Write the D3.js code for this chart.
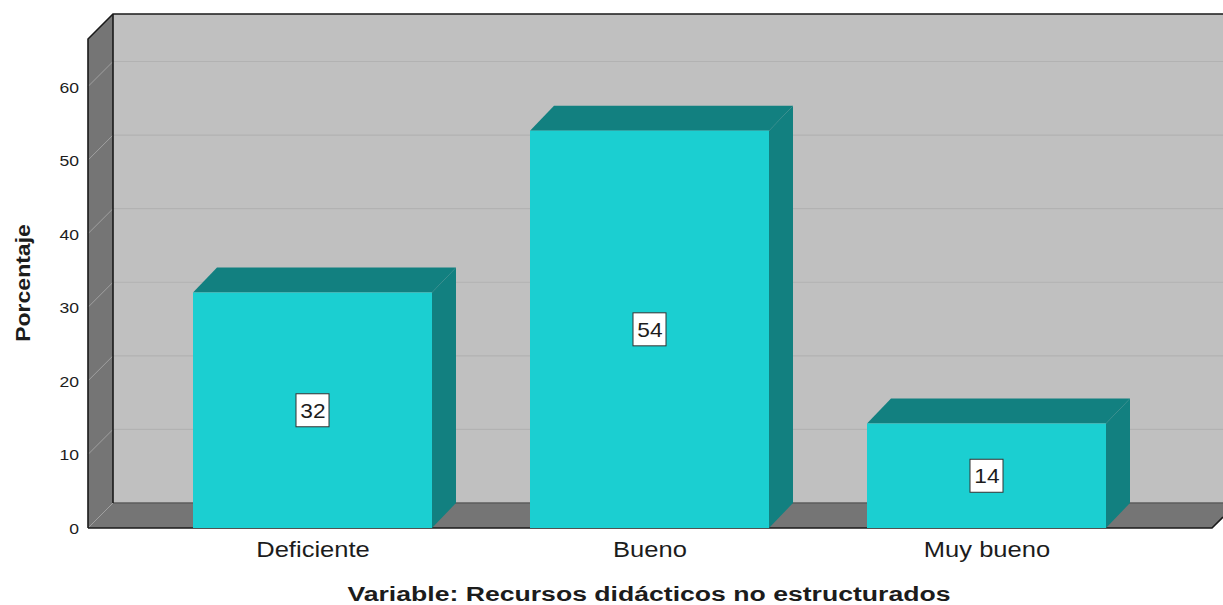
<!DOCTYPE html>
<html><head><meta charset="utf-8">
<script src="https://cdn.jsdelivr.net/npm/d3@7"></script>
<style>html,body{margin:0;padding:0;background:#fff}svg{display:block}text{font-family:"Liberation Sans",Arial,sans-serif;fill:#1c1c1c}</style>
</head><body><svg id="c" width="1223" height="605"></svg>
<script>
const categories=["Deficiente","Bueno","Muy bueno"];
const values=[32,54,14.2];
const labels=["32","54","14"];
const yTicks=[0,10,20,30,40,50,60];
const gridTicks=[10,20,30,40,50,60];
const yTitle="Porcentaje";
const xTitle="Variable: Recursos didácticos no estructurados";

const W=1223,H=605;
const left=88,right=1212,bottom=528,depth=25,wallTop=14;
const y=d3.scaleLinear().domain([0,60]).range([bottom,86.5]);
const x=d3.scalePoint().domain(categories).range([312.5,986.5]);
const barW=239;
const svg=d3.select("#c");
const ink="#1a1a1a";

// walls
svg.append("polygon").attr("points",[[left+depth,wallTop],[W+2,wallTop],[W+2,bottom-depth],[left+depth,bottom-depth]].join(" ")).attr("fill","#c0c0c0");
svg.append("polygon").attr("points",[[left,wallTop+depth],[left+depth,wallTop],[left+depth,bottom-depth],[left,bottom]].join(" ")).attr("fill","#757575");
svg.append("polygon").attr("points",[[left,bottom],[left+depth,bottom-depth],[W+2,bottom-depth],[W+2,bottom-(W+2-right)],[right,bottom]].join(" ")).attr("fill","#757575");

// gridlines
svg.append("g").selectAll("line").data(gridTicks).join("line")
 .attr("x1",left+depth).attr("x2",W)
 .attr("y1",d=>y(d)-depth).attr("y2",d=>y(d)-depth)
 .attr("stroke","#b2b2b2").attr("stroke-width",1.2);
svg.append("g").selectAll("line").data(gridTicks.concat([0])).join("line")
 .attr("x1",left).attr("x2",left+depth)
 .attr("y1",d=>y(d)).attr("y2",d=>y(d)-depth)
 .attr("stroke","#a0a0a0");

// wall outlines
svg.append("line").attr("x1",left+depth).attr("x2",W).attr("y1",bottom-depth).attr("y2",bottom-depth).attr("stroke","#5c5c5c").attr("stroke-width",1.5);
const outline=[[[left,bottom],[left,wallTop+depth],[left+depth,wallTop],[W,wallTop]],
 [[left+depth,wallTop],[left+depth,bottom-depth]],
 [[left,bottom],[right,bottom],[W,bottom-(W-right)]]];
svg.append("g").selectAll("path").data(outline).join("path")
 .attr("d",d3.line()).attr("fill","none").attr("stroke",ink).attr("stroke-width",1.6);

// bars
const g=svg.append("g").selectAll("g").data(categories.map((c,i)=>({c,v:values[i],l:labels[i]}))).join("g");
const xl=d=>x(d.c)-barW/2, xr=d=>x(d.c)+barW/2;
g.append("polygon").attr("points",d=>[[xl(d),y(d.v)],[xl(d)+depth-1,y(d.v)-depth],[xr(d)+depth-1,y(d.v)-depth],[xr(d),y(d.v)]].join(" ")).attr("fill","#128080");
g.append("polygon").attr("points",d=>[[xr(d),y(d.v)],[xr(d)+depth-1,y(d.v)-depth],[xr(d)+depth-1,bottom-depth],[xr(d),bottom]].join(" ")).attr("fill","#128080");
g.append("rect").attr("x",xl).attr("y",d=>y(d.v)).attr("width",barW).attr("height",d=>bottom-y(d.v)).attr("fill","#1bcfd1");
g.append("rect").attr("x",d=>x(d.c)-16.5).attr("y",d=>(y(d.v)+bottom)/2-16.5).attr("width",33).attr("height",33).attr("fill","#fff").attr("stroke","#333").attr("stroke-width",1);
const lab=g.append("text").attr("x",d=>x(d.c)+0.5).attr("y",d=>(y(d.v)+bottom)/2+7.5).attr("text-anchor","middle").attr("font-size",21).text(d=>d.l);

// tick labels
const yl=svg.append("g").selectAll("text").data(yTicks).join("text")
 .attr("x",79).attr("y",d=>y(d)+6).attr("text-anchor","end").attr("font-size",15).text(d=>d);
const xLabels=svg.append("g").selectAll("text").data(categories).join("text")
 .attr("x",d=>x(d)+0.5).attr("y",557).attr("text-anchor","middle").attr("font-size",22).text(d=>d);
const xt=svg.append("text").attr("x",649).attr("y",600.5).attr("text-anchor","middle").attr("font-size",20).attr("font-weight","bold").text(xTitle);
const yt=svg.append("text").attr("transform","translate(30,283) rotate(-90)").attr("text-anchor","middle").attr("font-size",20).attr("font-weight","bold").text(yTitle);

// the reference type is horizontally stretched
function stretch(sel,k){sel.each(function(){
  const n=this.getComputedTextLength();
  this.setAttribute("textLength",n*k);
  this.setAttribute("lengthAdjust","spacingAndGlyphs");
});}
stretch(lab,1.08);stretch(yl,1.17);stretch(xLabels,1.16);stretch(xt,1.33);stretch(yt,1.15);
</script></body></html>
